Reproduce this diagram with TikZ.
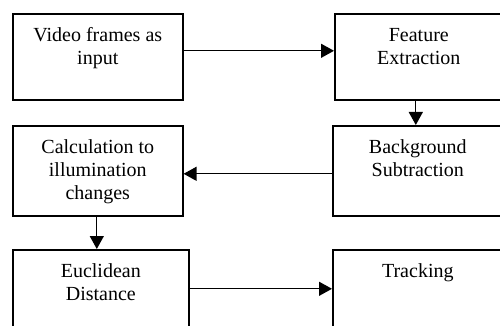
\documentclass[tikz,border=0pt]{standalone}
\usepackage{fontspec}
\setmainfont{Liberation Serif}
\usetikzlibrary{positioning,arrows.meta}

% text of a stage, set from the top of its box
\newcommand{\stagetext}[3]{\parbox[t][#2][t]{#1}{\centering\vspace*{11.5pt}\strut #3}}

\begin{document}
\begin{tikzpicture}[
	x=1pt, y=1pt,
	% boxes and arrows
	stage/.style={draw, line width=1.6pt, inner sep=0pt, anchor=north west,
		font=\fontsize{20}{23}\selectfont},
	flow/.style={line width=1.3pt, -{Triangle[length=13pt,width=14pt]}}
	]
	\useasboundingbox (0,0) rectangle (500,-326);
	\clip (0,0) rectangle (500,-326);
	
	% stages
	\node[stage] (video) at (12,-13) {\stagetext{170pt}{86pt}{Video frames as\\input}};
	\node[stage] (feat) at (334,-13) {\stagetext{168pt}{86pt}{Feature\\Extraction}};
	\node[stage] (bgsub) at (332,-125) {\stagetext{170pt}{90pt}{Background\\Subtraction}};
	\node[stage] (calc) at (12,-125) {\stagetext{170pt}{90pt}{Calculation to\\illumination\\changes}};
	\node[stage] (eucl) at (12,-249) {\stagetext{176pt}{90pt}{Euclidean\\Distance}};
	\node[stage] (track) at (332,-249) {\stagetext{170pt}{90pt}{Tracking}};
	
	% --- arrows ---
	\draw[flow] ([yshift=6pt]video.east) -- ([yshift=6pt]video.east -| feat.west);
	\draw[flow] ([xshift=-3pt]feat.south) -- ([xshift=-3pt]feat.south |- bgsub.north);
	\draw[flow] ([yshift=-3pt]bgsub.west) -- ([yshift=-3pt]bgsub.west -| calc.east);
	\draw[flow] ([xshift=-1pt]calc.south) -- ([xshift=-1pt]calc.south |- eucl.north);
	\draw[flow] ([yshift=6pt]eucl.east) -- ([yshift=6pt]eucl.east -| track.west);
\end{tikzpicture}
\end{document}
